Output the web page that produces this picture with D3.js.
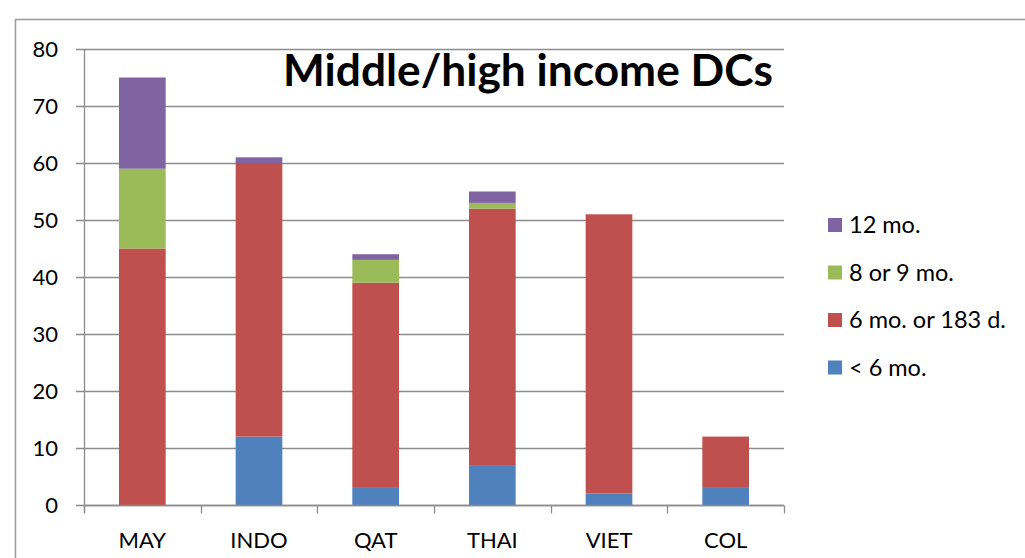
<!DOCTYPE html>
<html>
<head>
<meta charset="utf-8">
<script src="https://cdn.jsdelivr.net/npm/d3@7"></script>
<style>
  html, body { margin: 0; padding: 0; background: #fff; }
  svg { display: block; }
  text { font-family: Lato, "Open Sans", "Noto Sans", sans-serif; fill: #000; }
</style>
</head>
<body>
<svg id="chart" width="1025" height="558"></svg>
<script>
// Countries on the x axis
const categories = ["MAY", "INDO", "QAT", "THAI", "VIET", "COL"];
// Stacked series, bottom to top
const seriesNames = ["< 6 mo.", "6 mo. or 183 d.", "8 or 9 mo.", "12 mo."];
const under6 = [0, 12, 3, 7, 2, 3];
const sixMonths = [45, 48, 36, 45, 49, 9];
const eightOrNine = [14, 0, 4, 1, 0, 0];
const twelveMonths = [16, 1, 1, 2, 0, 0];
const colors = ["#4F81BD", "#C0504D", "#9BBB59", "#8064A2"];
const yTicks = [0, 10, 20, 30, 40, 50, 60, 70, 80];
const title = "Middle/high income DCs";

const svg = d3.select("#chart");

// Outer chart frame (runs off the right and bottom edges)
svg.append("rect")
  .attr("x", 15.5).attr("y", 19.5)
  .attr("width", 1100).attr("height", 700)
  .attr("fill", "none").attr("stroke", "#9a9a9a").attr("stroke-width", 1.5);

const plot = { left: 84, right: 784, top: 49, bottom: 505 };

const y = d3.scaleLinear().domain([0, 80]).range([plot.bottom, plot.top]);

// Horizontal gridlines with tick stubs on the left
svg.append("g")
  .selectAll("line")
  .data(yTicks)
  .join("line")
  .attr("x1", plot.left - 8).attr("x2", plot.right)
  .attr("y1", d => Math.round(y(d)) + 0.5).attr("y2", d => Math.round(y(d)) + 0.5)
  .attr("stroke", "#8c8c8c").attr("stroke-width", 1.3);

// Y tick labels
svg.append("g")
  .selectAll("text")
  .data(yTicks)
  .join("text")
  .attr("x", 58).attr("y", d => y(d))
  .attr("dy", "0.36em")
  .attr("text-anchor", "end")
  .attr("font-size", 22)
  .text(d => d);

// Y axis line
svg.append("line")
  .attr("x1", plot.left + 0.5).attr("x2", plot.left + 0.5)
  .attr("y1", plot.top).attr("y2", plot.bottom + 8)
  .attr("stroke", "#8c8c8c").attr("stroke-width", 1.3);

// Stacked bars
const rows = categories.map((c, i) => ({
  cat: c,
  "< 6 mo.": under6[i],
  "6 mo. or 183 d.": sixMonths[i],
  "8 or 9 mo.": eightOrNine[i],
  "12 mo.": twelveMonths[i]
}));
const stack = d3.stack().keys(seriesNames)(rows);

const bandW = (plot.right - plot.left) / categories.length;
const bw = bandW * 0.4;
const cx = c => plot.left + bandW * (categories.indexOf(c) + 0.5);

svg.append("g")
  .selectAll("g")
  .data(stack)
  .join("g")
  .attr("fill", (d, i) => colors[i])
  .selectAll("rect")
  .data(d => d.filter(p => p[1] > p[0]))
  .join("rect")
  .attr("x", d => cx(d.data.cat) - bw / 2)
  .attr("width", bw)
  .attr("y", d => y(d[1]))
  .attr("height", d => y(d[0]) - y(d[1]));

// X axis with tick marks at band boundaries
const xAxisY = Math.round(y(0)) + 0.5;
svg.append("line")
  .attr("x1", plot.left).attr("x2", plot.right)
  .attr("y1", xAxisY).attr("y2", xAxisY)
  .attr("stroke", "#8c8c8c").attr("stroke-width", 1.3);
svg.append("g")
  .selectAll("line")
  .data(d3.range(categories.length + 1))
  .join("line")
  .attr("x1", i => Math.round(plot.left + bandW * i) + 0.5)
  .attr("x2", i => Math.round(plot.left + bandW * i) + 0.5)
  .attr("y1", xAxisY).attr("y2", xAxisY + 8)
  .attr("stroke", "#8c8c8c").attr("stroke-width", 1.3);

svg.append("g")
  .selectAll("text")
  .data(categories)
  .join("text")
  .attr("x", d => cx(d))
  .attr("y", 548)
  .attr("text-anchor", "middle")
  .attr("font-size", 22)
  .text(d => d);

// Title, sized to span its slot
const t = svg.append("text")
  .attr("x", 528).attr("y", 86)
  .attr("text-anchor", "middle")
  .attr("font-weight", "bold")
  .attr("font-size", 44)
  .text(title);
const tw = t.node().getComputedTextLength();
t.attr("font-size", 44 * 490 / tw);

// Legend, top series first
const legendItems = seriesNames.map((n, i) => ({ name: n, color: colors[i] })).reverse();
const lg = svg.append("g")
  .selectAll("g")
  .data(legendItems)
  .join("g")
  .attr("transform", (d, i) => `translate(828, ${225 + i * 47.5})`);
lg.append("rect")
  .attr("x", 0).attr("y", -7)
  .attr("width", 14).attr("height", 14)
  .attr("fill", d => d.color);
lg.append("text")
  .attr("x", 21).attr("y", 0)
  .attr("dy", "0.36em")
  .attr("font-size", 23.5)
  .text(d => d.name);
</script>
</body>
</html>
